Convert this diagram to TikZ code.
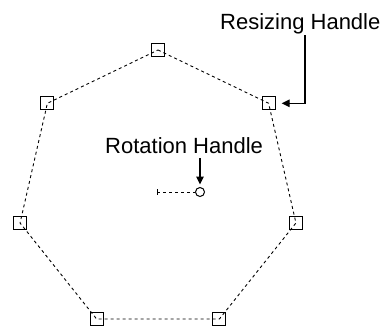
\documentclass[tikz,border=0pt]{standalone}
\usepackage{fontspec}
\setmainfont{Liberation Sans}
\usetikzlibrary{calc,arrows.meta}
\begin{document}
\begin{tikzpicture}[x=1pt,y=-1pt,
  handle/.style={draw=black,line width=1.1pt,minimum size=13pt,inner sep=0pt,fill=none},
  edge/.style={draw=black,line width=0.9pt,dash pattern=on 3pt off 3pt},
  pointer/.style={draw=black,line width=1.3pt,-{Triangle[length=8pt,width=7.5pt]}},
  label/.style={font=\fontsize{22}{26}\selectfont,inner sep=0pt,anchor=base west}]
\useasboundingbox (0,0) rectangle (383,325);
\coordinate (c) at (158,191.5);
\foreach \i in {0,...,6}{
  \coordinate (v\i) at ($(c)+({141.5*cos(90-\i*360/7)},{-141.5*sin(90-\i*360/7)})$);
}
\draw[edge] (v0)--(v1)--(v2)--(v3)--(v4)--(v5)--(v6)--cycle;
\foreach \i in {0,...,6}{
  \node[handle] (h\i) at (v\i) {};
}
% rotation handle
\node[circle,draw=black,line width=1pt,minimum size=9pt,inner sep=0pt] (rot) at (200,192) {};
\coordinate (tick) at (157,192);
\draw[black,line width=1pt] (157,189)--(157,195);
\draw[edge] (tick)--(rot.west);
% labels
\node[label] (rs) at (220,29) {Resizing Handle};
\node[label] (rt) at (105,153) {Rotation Handle};
\coordinate (rsTop) at (305,35);
\draw[pointer,shorten >=6pt] (rsTop) |- (h1.east);
\coordinate (rtTop) at (200,158);
\draw[pointer,shorten >=2.5pt] (rtTop) -- (rot.north);
\end{tikzpicture}
\end{document}
